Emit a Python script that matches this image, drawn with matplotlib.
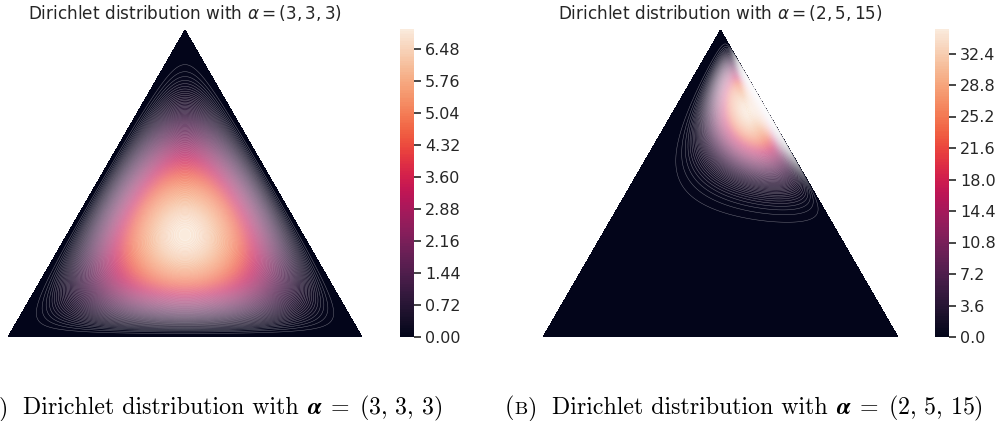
import numpy as np
import matplotlib
matplotlib.use("Agg")
import matplotlib.pyplot as plt
import matplotlib.tri as tri
import seaborn as sns
from math import gamma

sns.set_theme(style="white")
plt.rcParams['font.family'] = ['DejaVu Sans']
plt.rcParams['mathtext.fontset'] = 'dejavusans'

# Dirichlet parameters for the two panels
alpha_a = [3, 3, 3]
alpha_b = [2, 5, 15]
titles = [r"Dirichlet distribution with $\alpha = (3, 3, 3)$",
          r"Dirichlet distribution with $\alpha = (2, 5, 15)$"]
caption_labels = ["A", "B"]
caption_tails = ["(3,3,3)", "(2,5,15)"]
cbar_ticks_a = [0.00, 0.72, 1.44, 2.16, 2.88, 3.60, 4.32, 5.04, 5.76, 6.48]
cbar_ticks_b = [0.0, 3.6, 7.2, 10.8, 14.4, 18.0, 21.6, 25.2, 28.8, 32.4]
n_levels = 200

corners = np.array([[0, 0], [1, 0], [0.5, 0.75 ** 0.5]])
triangle = tri.Triangulation(corners[:, 0], corners[:, 1])
refiner = tri.UniformTriRefiner(triangle)
trimesh = refiner.refine_triangulation(subdiv=8)
midpoints = [(corners[(i + 1) % 3] + corners[(i + 2) % 3]) / 2.0 for i in range(3)]


def xy2bc(xy, tol=1.e-4):
    s = [(corners[i] - midpoints[i]).dot(xy - midpoints[i]) / 0.75 for i in range(3)]
    return np.clip(s, tol, 1.0 - tol)


def dirichlet_pdf(x, alpha):
    coef = gamma(sum(alpha)) / np.prod([gamma(a) for a in alpha])
    return coef * np.prod([xx ** (a - 1) for xx, a in zip(x, alpha)])


W, H = 1002, 421
fig = plt.figure(figsize=(W / 100, H / 100), dpi=100)

panels = [
    (alpha_a, cbar_ticks_a, [8, 30, 354, 307], [400, 29, 14, 308], titles[0], "{:.2f}"),
    (alpha_b, cbar_ticks_b, [543, 30, 355, 307], [935, 29, 14, 308], titles[1], "{:.1f}"),
]

for alpha, ticks, (x0, y0, w, h), (cx, cy, cw, ch), title, fmt in panels:
    ax = fig.add_axes([x0 / W, 1 - (y0 + h) / H, w / W, h / H])
    pvals = [dirichlet_pdf(xy2bc(xy), alpha) for xy in zip(trimesh.x, trimesh.y)]
    cs = ax.tricontourf(trimesh, pvals, n_levels, cmap="rocket")
    # thin light seams between the many filled levels (moire look of the original)
    ax.tricontour(trimesh, pvals, levels=cs.levels[1:-1], colors="white",
                  linewidths=0.35, alpha=0.42)
    ax.set_xlim(0, 1)
    ax.set_ylim(0, 0.75 ** 0.5)
    ax.axis("off")
    ax.set_title(title, fontsize=12.2, color=".15", pad=8)
    cax = fig.add_axes([cx / W, 1 - (cy + ch) / H, cw / W, ch / H])
    cb = fig.colorbar(cs, cax=cax)
    cb.outline.set_visible(False)
    cb.set_ticks(ticks)
    cb.set_ticklabels([fmt.format(t) for t in ticks])
    cax.tick_params(axis="y", length=5, width=1.2, color=".15", labelcolor=".15",
                    labelsize=11.5, pad=3)

# LaTeX-style captions below the panels, built from pieces
renderer = fig.canvas.get_renderer()
base_y = 1 - 414 / H
cap_fs = 17.2
label_gap = 15  # px between ")" and "Dirichlet"
# x position (px) where the word "Dirichlet" should start in each caption
word_x = [23, 552]
for wx, lbl, tail in zip(word_x, caption_labels, caption_tails):
    label_pieces = [
        ("(", dict(family="cmr10", size=cap_fs)),
        (lbl, dict(family="cmr10", size=cap_fs * 0.78)),
        (")", dict(family="cmr10", size=cap_fs)),
    ]
    body_pieces = [
        ("Dirichlet distribution with ", dict(family="cmr10", size=cap_fs)),
        (r"$\boldsymbol{\alpha}\;=\;" + tail.replace(",", r",\,") + r"$",
         dict(size=cap_fs, math_fontfamily="cm")),
    ]
    # body, left-anchored at wx
    x = wx
    for s, kw in body_pieces:
        t = fig.text(x / W, base_y, s, va="baseline", ha="left", color="black", **kw)
        x += t.get_window_extent(renderer).width
    # label, right-anchored at wx - gap
    x = wx - label_gap
    for s, kw in reversed(label_pieces):
        t = fig.text(x / W, base_y, s, va="baseline", ha="right", color="black", **kw)
        x -= t.get_window_extent(renderer).width

fig.savefig("out.png", dpi=100)
